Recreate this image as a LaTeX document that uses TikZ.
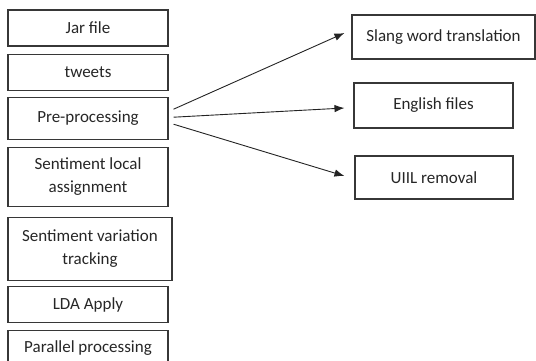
\documentclass[tikz,border=0pt]{standalone}
\usepackage{fontspec}
\setmainfont{Carlito}
\usepackage{tikz}
\usetikzlibrary{arrows.meta,positioning}
\definecolor{boxline}{RGB}{55,55,55}
\definecolor{arrowline}{RGB}{35,35,35}

\begin{document}
\begin{tikzpicture}[x=1pt, y=-1pt, font=\fontsize{17}{23}\selectfont, >={Latex[length=10pt,width=7.5pt]}]
\tikzstyle{box}=[draw=boxline, line width=1.1pt, minimum width=160pt, align=center, inner sep=2pt, text=black!85]
\tikzstyle{link}=[->, draw=arrowline, line width=0.9pt]
\useasboundingbox (0,0) rectangle (536,360);
% left column
\node[box, minimum height=36pt] (jar) at (88,28) {Jar file};
\node[box, minimum height=36pt, below=7pt of jar] (tweets) {tweets};
\node[box, minimum height=42pt, below=6pt of tweets] (pre) {Pre-processing};
\node[box, minimum height=59pt, below=7pt of pre] (local) {Sentiment local\\assignment};
\node[box, minimum height=63pt, minimum width=164pt, below=10pt of local, xshift=2pt] (track) {Sentiment variation\\tracking};
\node[box, minimum height=36pt, below=5pt of track, xshift=-2pt] (lda) {LDA Apply};
\node[box, minimum height=34pt, below=7pt of lda] (parallel) {Parallel processing};
% right column
\node[box, minimum width=183pt, minimum height=44pt] (slang) at (443.5,37) {Slang word translation};
\node[box, minimum width=159pt, minimum height=45pt] (english) at (433.5,105.5) {English files};
\node[box, minimum width=158pt, minimum height=43pt] (uiil) at (434,177.5) {UIIL removal};
\draw[link] ([xshift=5pt,yshift=9pt]pre.east) -- ([xshift=-7pt,yshift=4pt]slang.west);
\draw[link] ([xshift=5pt,yshift=1pt]pre.east) -- ([xshift=-9pt,yshift=-2.5pt]english.west);
\draw[link] ([xshift=5pt,yshift=-6pt]pre.east) -- ([xshift=-10pt,yshift=1.5pt]uiil.west);
\end{tikzpicture}
\end{document}
